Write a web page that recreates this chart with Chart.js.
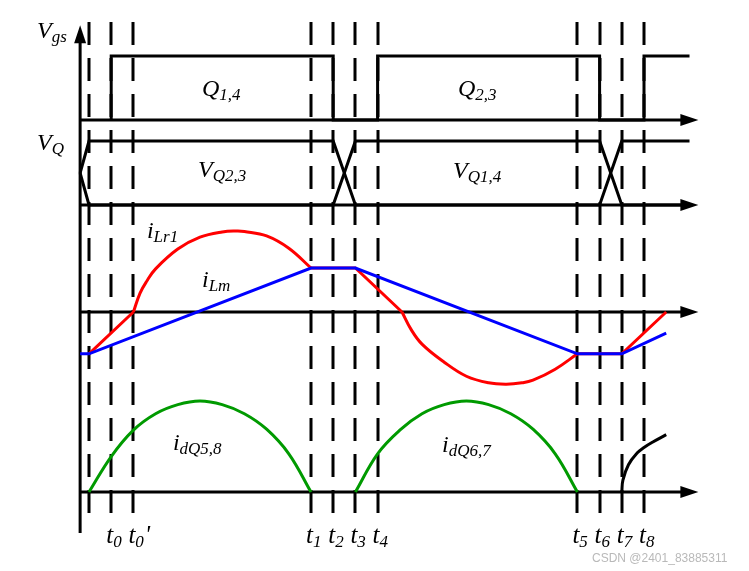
<!DOCTYPE html>
<html>
<head>
<meta charset="utf-8">
<title>LLC timing</title>
<script src="https://cdn.jsdelivr.net/npm/chart.js@4.4.1/dist/chart.umd.min.js"></script>
<style>
  html, body { margin: 0; padding: 0; background: #fff; }
  #wrap { position: relative; width: 749px; height: 571px; }
  #mark { position: absolute; left: 592px; top: 551px; font: 12px "Liberation Sans", Arial, sans-serif; color: #b9b9b9; white-space: nowrap; }
</style>
</head>
<body>
<div id="wrap">
  <canvas id="timing" width="749" height="571"></canvas>
  <div id="mark">CSDN @2401_83885311</div>
</div>
<script>
// time unit = distance between two neighbouring dashed lines
const tickTimes  = [0, 1, 2, 10, 11, 12, 13, 22, 23, 24, 25];
const tickLabels = ["", "t_0", "t_0'", "t_1", "t_2", "t_3", "t_4", "t_5", "t_6", "t_7", "t_8"];

// gate drive (0 low, 1 high)
const vgsT = [1, 1, 11, 11, 13, 13, 23, 23, 25, 25, 27.05];
const vgsV = [0, 1, 1, 0, 0, 1, 1, 0, 0, 1, 1];

// switch voltages, they cross during the dead time
const vq23T = [-0.4, 0, 11, 12, 23, 24, 27.05];
const vq23V = [0.5, 1, 1, 0, 0, 1, 1];
const vq14T = [-0.4, 0, 11, 12, 23, 24, 27.05];
const vq14V = [0.5, 0, 0, 1, 1, 0, 0];

// magnetizing current
const iLmT = [-0.4, 0, 10, 12, 22, 24, 26];
const iLmV = [-0.95, -0.95, 1, 1, -0.95, -0.95, -0.48];

// resonant current: straight parts + the two resonant arcs
const iLrLineT = [0, 2, null, 10, 12, 14.1, null, 22, 24, 26];
const iLrLineV = [-0.95, 0, null, 1, 1, 0, null, -0.95, -0.95, 0];
const iLrArcT = [2, 2.3, 2.6, 3, 4, 5, 6, 6.65, 7, 8, 9, 10,
                 null, 14.1, 14.5, 15, 16, 17, 18, 18.8, 19.5, 20, 21, 22];
const iLrArcV = [0, 0.43, 0.7, 0.98, 1.43, 1.7, 1.82, 1.84, 1.83, 1.73, 1.45, 1,
                 null, 0, -0.39, -0.73, -1.14, -1.46, -1.61, -1.64, -1.61, -1.55, -1.3, -0.95];

// rectifier diode currents
const idQT = [0, 1, 2, 3, 4, 5, 6, 7, 8, 9, 10, null, 12, 13, 14, 15, 16, 17, 18, 19, 20, 21, 22];
const idQV = [0, 0.39, 0.68, 0.86, 0.96, 1, 0.96, 0.86, 0.69, 0.42, 0,
              null, 0, 0.42, 0.68, 0.86, 0.96, 1, 0.96, 0.86, 0.69, 0.42, 0];
const idNextT = [24, 24.05, 24.3, 24.7, 25, 25.4, 26];
const idNextV = [0, 0.13, 0.3, 0.43, 0.49, 0.55, 0.63];

const W = 749, H = 571;
const X0 = 89, XU = 22.2;   // pixel of t=0 and pixels per time unit
const panels = {
  yG: { base: 120, unit: 64 },
  yQ: { base: 205, unit: 64 },
  yI: { base: 312, unit: 44 },
  yD: { base: 492, unit: 91 }
};

function pts(ts, vs) {
  return ts.map((t, i) => t === null ? { x: ts[i - 1], y: null } : { x: t, y: vs[i] });
}

function trace(ts, vs, axis, color, smooth) {
  return {
    data: pts(ts, vs),
    yAxisID: axis,
    showLine: true,
    borderColor: color,
    borderWidth: 3,
    pointRadius: 0,
    tension: smooth ? 0.4 : 0,
    spanGaps: false
  };
}

const scales = {
  x: { type: 'linear', display: false, min: -X0 / XU, max: (W - X0) / XU }
};
for (const id in panels) {
  const p = panels[id];
  scales[id] = { type: 'linear', display: false, min: -(H - p.base) / p.unit, max: p.base / p.unit };
}

const serif = '"Liberation Serif", "Times New Roman", serif';

function drawText(ctx, text, x, y, big, small) {
  const parts = text.split('_');
  let sub = parts[1] || '', prime = '';
  if (sub.endsWith("'")) { prime = "'"; sub = sub.slice(0, -1); }
  ctx.font = 'italic ' + big + 'px ' + serif;
  ctx.fillText(parts[0], x, y);
  x += ctx.measureText(parts[0]).width;
  ctx.font = 'italic ' + small + 'px ' + serif;
  ctx.fillText(sub, x, y + 4);
  x += ctx.measureText(sub).width;
  if (prime) {
    ctx.font = 'italic ' + big + 'px ' + serif;
    ctx.fillText(prime, x + 1, y);
  }
}

const diagram = {
  id: 'diagram',
  beforeDatasetsDraw(chart, args, opts) {
    const ctx = chart.ctx, xs = chart.scales.x, s = chart.scales;
    ctx.save();
    ctx.strokeStyle = '#000';
    ctx.fillStyle = '#000';
    ctx.lineWidth = 3;
    ctx.lineCap = 'butt';

    // dashed time markers
    const top = s.yG.getPixelForValue(opts.dashTop);
    const bottom = s.yD.getPixelForValue(opts.dashBottom);
    ctx.setLineDash([23, 13]);
    tickTimes.forEach(t => {
      const x = Math.round(xs.getPixelForValue(t));
      ctx.beginPath();
      ctx.moveTo(x, top);
      ctx.lineTo(x, bottom);
      ctx.stroke();
    });
    ctx.setLineDash([]);

    // horizontal axes with arrows
    const x1 = xs.getPixelForValue(opts.axisStart);
    const tip = xs.getPixelForValue(opts.axisTip);
    Object.keys(panels).forEach(id => {
      const y = s[id].getPixelForValue(0);
      ctx.beginPath();
      ctx.moveTo(x1, y);
      ctx.lineTo(tip - 10, y);
      ctx.stroke();
      ctx.beginPath();
      ctx.moveTo(tip, y);
      ctx.lineTo(tip - 18, y - 6);
      ctx.lineTo(tip - 18, y + 6);
      ctx.closePath();
      ctx.fill();
    });

    // vertical axis
    const yTip = s.yG.getPixelForValue(opts.vTop);
    const yEnd = s.yD.getPixelForValue(opts.vBottom);
    ctx.beginPath();
    ctx.moveTo(x1, yEnd);
    ctx.lineTo(x1, yTip + 10);
    ctx.stroke();
    ctx.beginPath();
    ctx.moveTo(x1, yTip);
    ctx.lineTo(x1 - 6, yTip + 18);
    ctx.lineTo(x1 + 6, yTip + 18);
    ctx.closePath();
    ctx.fill();
    ctx.restore();
  },
  afterDatasetsDraw(chart, args, opts) {
    const ctx = chart.ctx, xs = chart.scales.x, s = chart.scales;
    ctx.save();
    ctx.fillStyle = '#000';
    ctx.textBaseline = 'alphabetic';
    opts.labels.forEach(l => {
      drawText(ctx, l.text, xs.getPixelForValue(l.t), s[l.axis].getPixelForValue(l.v), 24, 17);
    });
    const yT = s.yD.getPixelForValue(opts.tickLabelV);
    tickTimes.forEach((t, i) => {
      if (!tickLabels[i]) return;
      drawText(ctx, tickLabels[i], xs.getPixelForValue(t) - 5, yT, 25, 17);
    });
    ctx.restore();
  }
};

const datasets = [
  Object.assign(trace(iLmT, iLmV, 'yI', '#0000ff', false), { order: 1 }),
  Object.assign(trace(iLrLineT, iLrLineV, 'yI', '#ff0000', false), { order: 2 }),
  Object.assign(trace(iLrArcT, iLrArcV, 'yI', '#ff0000', true), { order: 2 }),
  Object.assign(trace(vgsT, vgsV, 'yG', '#000000', false), { order: 3 }),
  Object.assign(trace(vq23T, vq23V, 'yQ', '#000000', false), { order: 3 }),
  Object.assign(trace(vq14T, vq14V, 'yQ', '#000000', false), { order: 3 }),
  Object.assign(trace(idQT, idQV, 'yD', '#009a00', true), { order: 3 }),
  Object.assign(trace(idNextT, idNextV, 'yD', '#000000', true), { order: 3 })
];

new Chart(document.getElementById('timing'), {
  type: 'scatter',
  data: { datasets: datasets },
  options: {
    responsive: false,
    animation: false,
    events: [],
    layout: { padding: 0 },
    scales: scales,
    plugins: {
      legend: { display: false },
      tooltip: { enabled: false },
      diagram: {
        dashTop: 1.53, dashBottom: -0.23,
        axisStart: -0.4, axisTip: 27.45,
        vTop: 1.48, vBottom: -0.45,
        tickLabelV: -0.56,
        labels: [
          { text: 'V_gs', axis: 'yG', t: -2.34, v: 1.28 },
          { text: 'V_Q', axis: 'yQ', t: -2.34, v: 0.86 },
          { text: 'Q_1,4', axis: 'yG', t: 5.09, v: 0.375 },
          { text: 'Q_2,3', axis: 'yG', t: 16.62, v: 0.375 },
          { text: 'V_Q2,3', axis: 'yQ', t: 4.91, v: 0.44 },
          { text: 'V_Q1,4', axis: 'yQ', t: 16.4, v: 0.42 },
          { text: 'i_Lr1', axis: 'yI', t: 2.61, v: 1.68 },
          { text: 'i_Lm', axis: 'yI', t: 5.09, v: 0.57 },
          { text: 'i_dQ5,8', axis: 'yD', t: 3.78, v: 0.46 },
          { text: 'i_dQ6,7', axis: 'yD', t: 15.9, v: 0.44 }
        ]
      }
    }
  },
  plugins: [diagram]
});
</script>
</body>
</html>
